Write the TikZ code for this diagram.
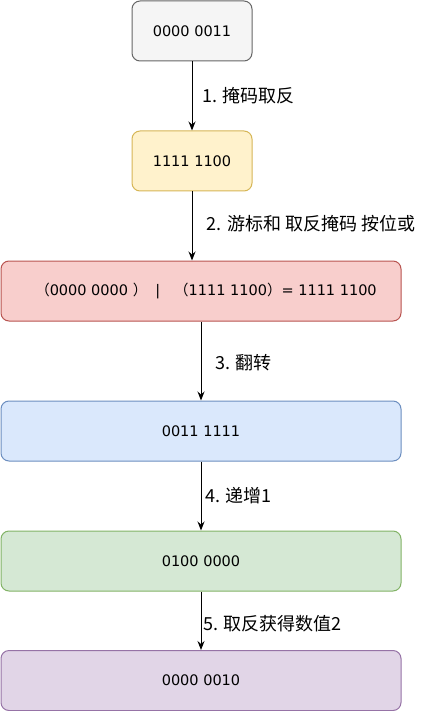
\documentclass[tikz,border=0pt]{standalone}
\usepackage{fontspec}
\setmainfont{DejaVu Sans}
\newfontfamily\cjk{Noto Sans CJK SC}
\usetikzlibrary{arrows.meta}
\definecolor{grayfill}{HTML}{F5F5F5}\definecolor{grayline}{HTML}{666666}
\definecolor{yelfill}{HTML}{FFF2CC}\definecolor{yelline}{HTML}{D6B656}
\definecolor{redfill}{HTML}{F8CECC}\definecolor{redline}{HTML}{B85450}
\definecolor{bluefill}{HTML}{DAE8FC}\definecolor{blueline}{HTML}{6C8EBF}
\definecolor{grnfill}{HTML}{D5E8D4}\definecolor{grnline}{HTML}{82B366}
\definecolor{purfill}{HTML}{E1D5E7}\definecolor{purline}{HTML}{9673A6}
\begin{document}
\begin{tikzpicture}[x=1pt,y=1pt,yscale=-1,xscale=1,
  box/.style={rectangle,rounded corners=8pt,line width=1pt,minimum height=60pt,inner sep=0pt,
    font=\fontsize{14.5}{17}\selectfont},
  small/.style={box,minimum width=120pt},
  wide/.style={box,minimum width=400pt},
  lbl/.style={anchor=west,inner sep=0pt,font=\fontsize{18}{21}\selectfont\cjk},
  arr/.style={line width=1pt,-{Stealth[length=9pt,width=7pt,inset=3pt]}}]
\useasboundingbox (0,0) rectangle (433,711);

%Shape: Rounded Rect
\node[small,fill=grayfill,draw=grayline] (mask) at (192,31) {0000 0011};
%Shape: Rounded Rect
\node[small,fill=yelfill,draw=yelline] (inv) at (192,161) {1111 1100};
%Shape: Rounded Rect
\node[wide,fill=redfill,draw=redline] (orres) at (201,291)
  {\hspace{10pt}{\cjk （}0000 0000 {\cjk ）}\hspace{8pt}|\hspace{14pt}{\cjk （}1111 1100{\cjk ）}= 1111 1100};
%Shape: Rounded Rect
\node[wide,fill=bluefill,draw=blueline] (flip) at (201,431) {0011 1111};
%Shape: Rounded Rect
\node[wide,fill=grnfill,draw=grnline] (incr) at (201,561) {0100 0000};
%Shape: Rounded Rect
\node[wide,fill=purfill,draw=purline] (res) at (201,680.5) {0000 0010};

%Straight Lines
\draw[arr] (mask) -- (inv);
\draw[arr] (inv) -- (inv |- orres.north);
\draw[arr] (orres) -- (flip);
\draw[arr] (flip) -- (incr);
\draw[arr] (incr) -- (res);

% Text Node
\node[lbl] (step1) at (202,96) {1. 掩码取反};
\node[lbl] (step2) at (206.5,224) {2. 游标和 取反掩码 按位或};
\node[lbl] (step3) at (215,363) {3. 翻转};
\node[lbl] (step4) at (205,496) {4. 递增1};
\node[lbl] (step5) at (203,624) {5. 取反获得数值2};

\end{tikzpicture}
\end{document}
